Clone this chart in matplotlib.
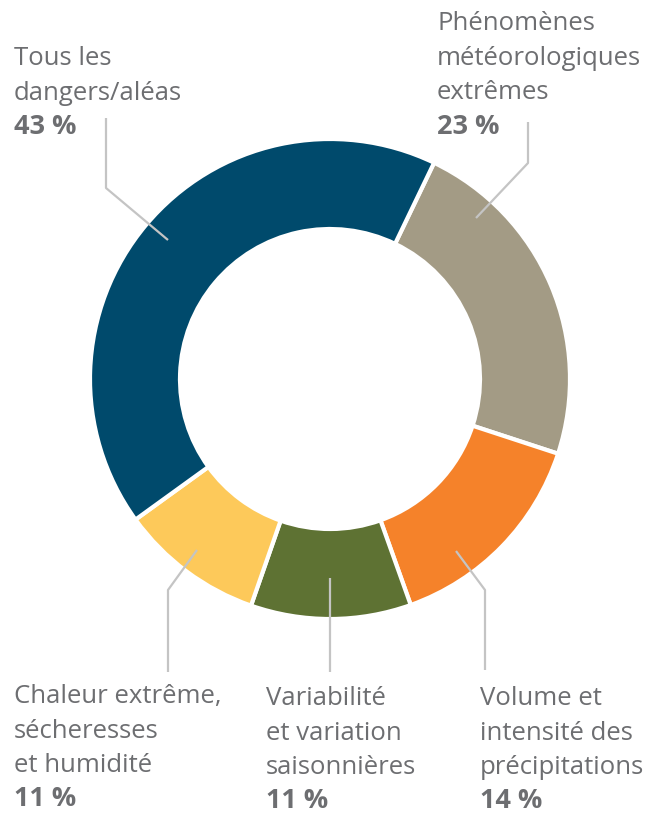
import matplotlib.pyplot as plt

categories = ["Phénomènes\nmétéorologiques\nextrêmes",
              "Volume et\nintensité des\nprécipitations",
              "Variabilité\net variation\nsaisonnières",
              "Chaleur extrême,\nsécheresses\net humidité",
              "Tous les\ndangers/aléas"]
parts = [22.9, 14.5, 10.8, 9.7, 42.1]
etiquettes_pct = ["23 %", "14 %", "11 %", "11 %", "43 %"]
couleurs = ["#a39b85", "#f5822a", "#5e7233", "#fdc95a", "#004a6c"]

plt.rcParams['font.family'] = ['Open Sans', 'DejaVu Sans']
texte = "#6d6e71"
trait = "#c4c4c4"

fig = plt.figure(figsize=(6.65, 8.13), dpi=100)
ax = fig.add_axes([0, 0, 1, 1])

ax.pie(parts, colors=couleurs, center=(330, 379), radius=240,
       startangle=-64.3, counterclock=True, frame=True,
       wedgeprops=dict(width=90, edgecolor='white', linewidth=3))
ax.set_xlim(0, 665)
ax.set_ylim(813, 0)   # coordonnées pixels, y vers le bas
ax.set_aspect('equal')
ax.axis('off')

# position des étiquettes (x, ligne de base de la 1re ligne) et traits de rappel
pos = [(437, 30), (480, 705), (266, 705), (14, 703), (14, 65)]
rappels = [[(476, 218), (528, 163), (528, 122)],
           [(456, 551), (485, 590), (485, 670)],
           [(330, 578), (330, 672)],
           [(197, 550), (168, 590), (168, 672)],
           [(168, 240), (106, 188), (106, 118)]]

pas = 34.5
for cat, pct, (x, y), r in zip(categories, etiquettes_pct, pos, rappels):
    lignes = cat.split("\n")
    for i, l in enumerate(lignes):
        ax.text(x, y + i * pas, l, fontsize=18.5, color=texte, va='baseline', ha='left')
    ax.text(x, y + len(lignes) * pas, pct, fontsize=19.5, color=texte,
            fontweight='bold', va='baseline', ha='left')
    xs, ys = zip(*r)
    ax.plot(xs, ys, color=trait, lw=1.6, solid_capstyle='butt', zorder=5)

fig.savefig("out.png", dpi=100)
